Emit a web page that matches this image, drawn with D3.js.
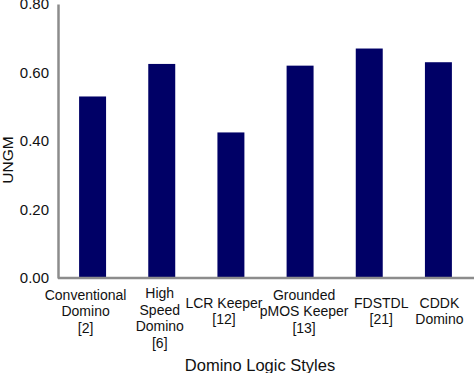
<!DOCTYPE html>
<html lang="en">
  <head>
    <meta charset="UTF-8" />
    <title>UNGM by Domino Logic Style</title>
    <style>
      body {
        margin: 0;
        background: #fff;
      }
      svg {
        display: block;
        font-family: "Liberation Sans", Arial, sans-serif;
      }
    </style>
  </head>
  <body>
    <div id="chart"></div>
    <script src="https://d3js.org/d3.v7.min.js"></script>
    <script>
      // chart data
      const categories = [
        ["Conventional", "Domino", "[2]"],
        ["High", "Speed", "Domino", "[6]"],
        ["LCR Keeper", "[12]"],
        ["Grounded", "pMOS Keeper", "[13]"],
        ["FDSTDL", "[21]"],
        ["CDDK", "Domino"]
      ];
      const values = [0.53, 0.625, 0.425, 0.62, 0.67, 0.63];
      const yTicks = [0, 0.2, 0.4, 0.6, 0.8];

      const width = 474;
      const height = 373;
      const margin = { top: 4, right: 1, bottom: 95, left: 58 };

      // labels in the original sit a little off their bar centres
      const labelNudge = [-7, -2, -7, 4, 12, 1];

      const svg = d3
        .select("#chart")
        .append("svg")
        .attr("width", width)
        .attr("height", height);

      const x = d3
        .scaleBand()
        .domain(d3.range(categories.length))
        .range([margin.left, width - margin.right])
        .paddingInner(0.61)
        .paddingOuter(0.305);

      const y = d3
        .scaleLinear()
        .domain([0, 0.8])
        .range([height - margin.bottom, margin.top]);

      // bars
      svg
        .selectAll("rect.bar")
        .data(values)
        .join("rect")
        .attr("class", "bar")
        .attr("x", (d, i) => x(i))
        .attr("y", d => y(d))
        .attr("width", x.bandwidth())
        .attr("height", d => y(0) - y(d))
        .attr("fill", "#000066");

      // y axis: line + labels only, no tick marks
      const yAxis = svg
        .append("g")
        .attr("transform", `translate(${margin.left},0)`)
        .call(d3.axisLeft(y).tickValues(yTicks).tickFormat(d3.format(".2f")).tickSize(0).tickPadding(9));
      yAxis.select(".domain").attr("stroke", "#8c8c8c").attr("stroke-width", 2.5);
      yAxis.selectAll("text").attr("font-size", 15).attr("fill", "#111").attr("font-family", null);

      // x axis line
      svg
        .append("line")
        .attr("x1", margin.left)
        .attr("x2", width)
        .attr("y1", y(0))
        .attr("y2", y(0))
        .attr("stroke", "#8c8c8c")
        .attr("stroke-width", 2.5);

      // category labels, multi-line, roughly centered under the axis
      const lineH = 16.5;
      const labels = svg
        .selectAll("text.cat")
        .data(categories)
        .join("text")
        .attr("class", "cat")
        .attr("text-anchor", "middle")
        .attr("font-size", 14)
        .attr("fill", "#111")
        .attr("transform", (d, i) => {
          const top = Math.max(293, 311 - ((d.length - 1) * lineH) / 2);
          return `translate(${x(i) + x.bandwidth() / 2 + labelNudge[i]},${top + 5})`;
        });
      labels
        .selectAll("tspan")
        .data(d => d)
        .join("tspan")
        .attr("x", 0)
        .attr("y", (d, j) => j * lineH)
        .text(d => d);

      // axis titles
      svg
        .append("text")
        .attr("x", 260)
        .attr("y", 371)
        .attr("text-anchor", "middle")
        .attr("font-size", 16.5)
        .attr("fill", "#111")
        .text("Domino Logic Styles");

      svg
        .append("text")
        .attr("transform", "translate(13,160) rotate(-90)")
        .attr("text-anchor", "middle")
        .attr("font-size", 15.5)
        .attr("fill", "#111")
        .text("UNGM");
    </script>
  </body>
</html>
